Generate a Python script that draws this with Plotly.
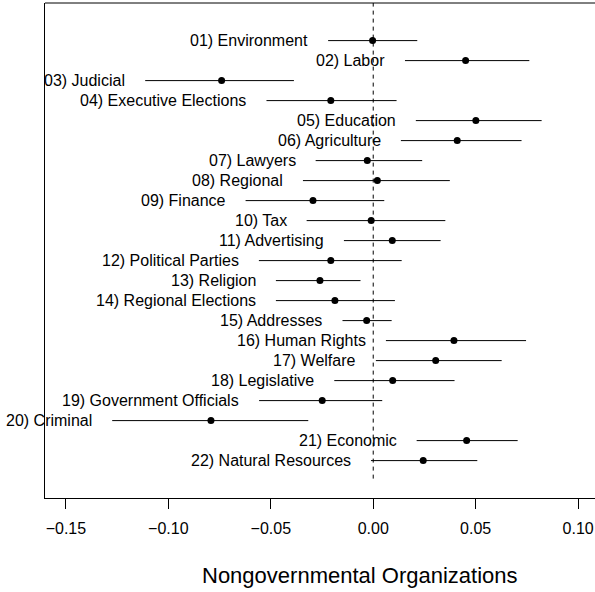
import plotly.graph_objects as go

labels = ["01) Environment", "02) Labor", "03) Judicial", "04) Executive Elections",
          "05) Education", "06) Agriculture", "07) Lawyers", "08) Regional",
          "09) Finance", "10) Tax", "11) Advertising", "12) Political Parties",
          "13) Religion", "14) Regional Elections", "15) Addresses", "16) Human Rights",
          "17) Welfare", "18) Legislative", "19) Government Officials", "20) Criminal",
          "21) Economic", "22) Natural Resources"]
estimate = [-0.0003, 0.0451, -0.0740, -0.0207, 0.0501, 0.0410, -0.0029, 0.0020,
            -0.0294, -0.0010, 0.0093, -0.0207, -0.0260, -0.0187, -0.0032, 0.0394,
            0.0305, 0.0095, -0.0249, -0.0792, 0.0456, 0.0244]
lower = [-0.0220, 0.0155, -0.1113, -0.0521, 0.0208, 0.0135, -0.0281, -0.0343,
         -0.0623, -0.0325, -0.0143, -0.0558, -0.0475, -0.0475, -0.0150, 0.0062,
         0.0013, -0.0190, -0.0557, -0.1274, 0.0212, -0.0011]
upper = [0.0215, 0.0762, -0.0387, 0.0114, 0.0822, 0.0724, 0.0239, 0.0374,
         0.0054, 0.0352, 0.0329, 0.0139, -0.0062, 0.0106, 0.0090, 0.0746,
         0.0627, 0.0397, 0.0044, -0.0317, 0.0705, 0.0508]
tick_vals = [-0.15, -0.10, -0.05, 0.00, 0.05, 0.10]
tick_text = ["\u22120.15", "\u22120.10", "\u22120.05", "0.00", "0.05", "0.10"]
x_title = "Nongovernmental Organizations"

rows = list(range(1, len(labels) + 1))
FONT = "Liberation Sans, Arial, Helvetica, sans-serif"

fig = go.Figure()
fig.add_trace(go.Scatter(
    x=estimate, y=rows, mode="markers",
    marker=dict(color="black", size=7),
    error_x=dict(type="data", symmetric=False,
                 array=[u - e for u, e in zip(upper, estimate)],
                 arrayminus=[e - l for e, l in zip(estimate, lower)],
                 color="black", thickness=1, width=0),
    showlegend=False, hoverinfo="skip"))

for lab, lo, r in zip(labels, lower, rows):
    fig.add_annotation(x=lo, y=r, xref="x", yref="y", text=lab, showarrow=False,
                       xanchor="right", yanchor="middle", xshift=-18,
                       font=dict(family=FONT, size=16, color="black"))

# zero reference line
fig.add_shape(type="line", x0=0, x1=0, y0=-0.9, y1=23, xref="x", yref="y",
              line=dict(color="black", width=1, dash="4px,4px"))
# top frame
fig.add_shape(type="line", x0=0, x1=1, y0=1, y1=1, xref="paper", yref="paper",
              line=dict(color="black", width=1))

fig.add_annotation(x=0.572, y=-0.156, xref="paper", yref="paper", text=x_title,
                   showarrow=False, xanchor="center", yanchor="middle",
                   font=dict(family=FONT, size=22, color="black"))

fig.update_layout(
    width=595, height=592,
    margin=dict(l=45, r=0, t=3, b=94, pad=0),
    paper_bgcolor="white", plot_bgcolor="white",
    font=dict(family=FONT, color="black"),
    xaxis=dict(range=[-0.1602, 0.10825], tickvals=tick_vals, ticktext=tick_text,
               ticks="outside", ticklen=10, tickwidth=1, tickcolor="black",
               showline=True, linecolor="black", linewidth=1, showgrid=False,
               zeroline=False, tickfont=dict(family=FONT, size=16, color="black"),
               ticklabelstandoff=6),
    yaxis=dict(range=[23.87, -0.88], showticklabels=False, ticks="",
               showline=True, linecolor="black", linewidth=1, showgrid=False,
               zeroline=False),
)

fig.write_html("out.html")
